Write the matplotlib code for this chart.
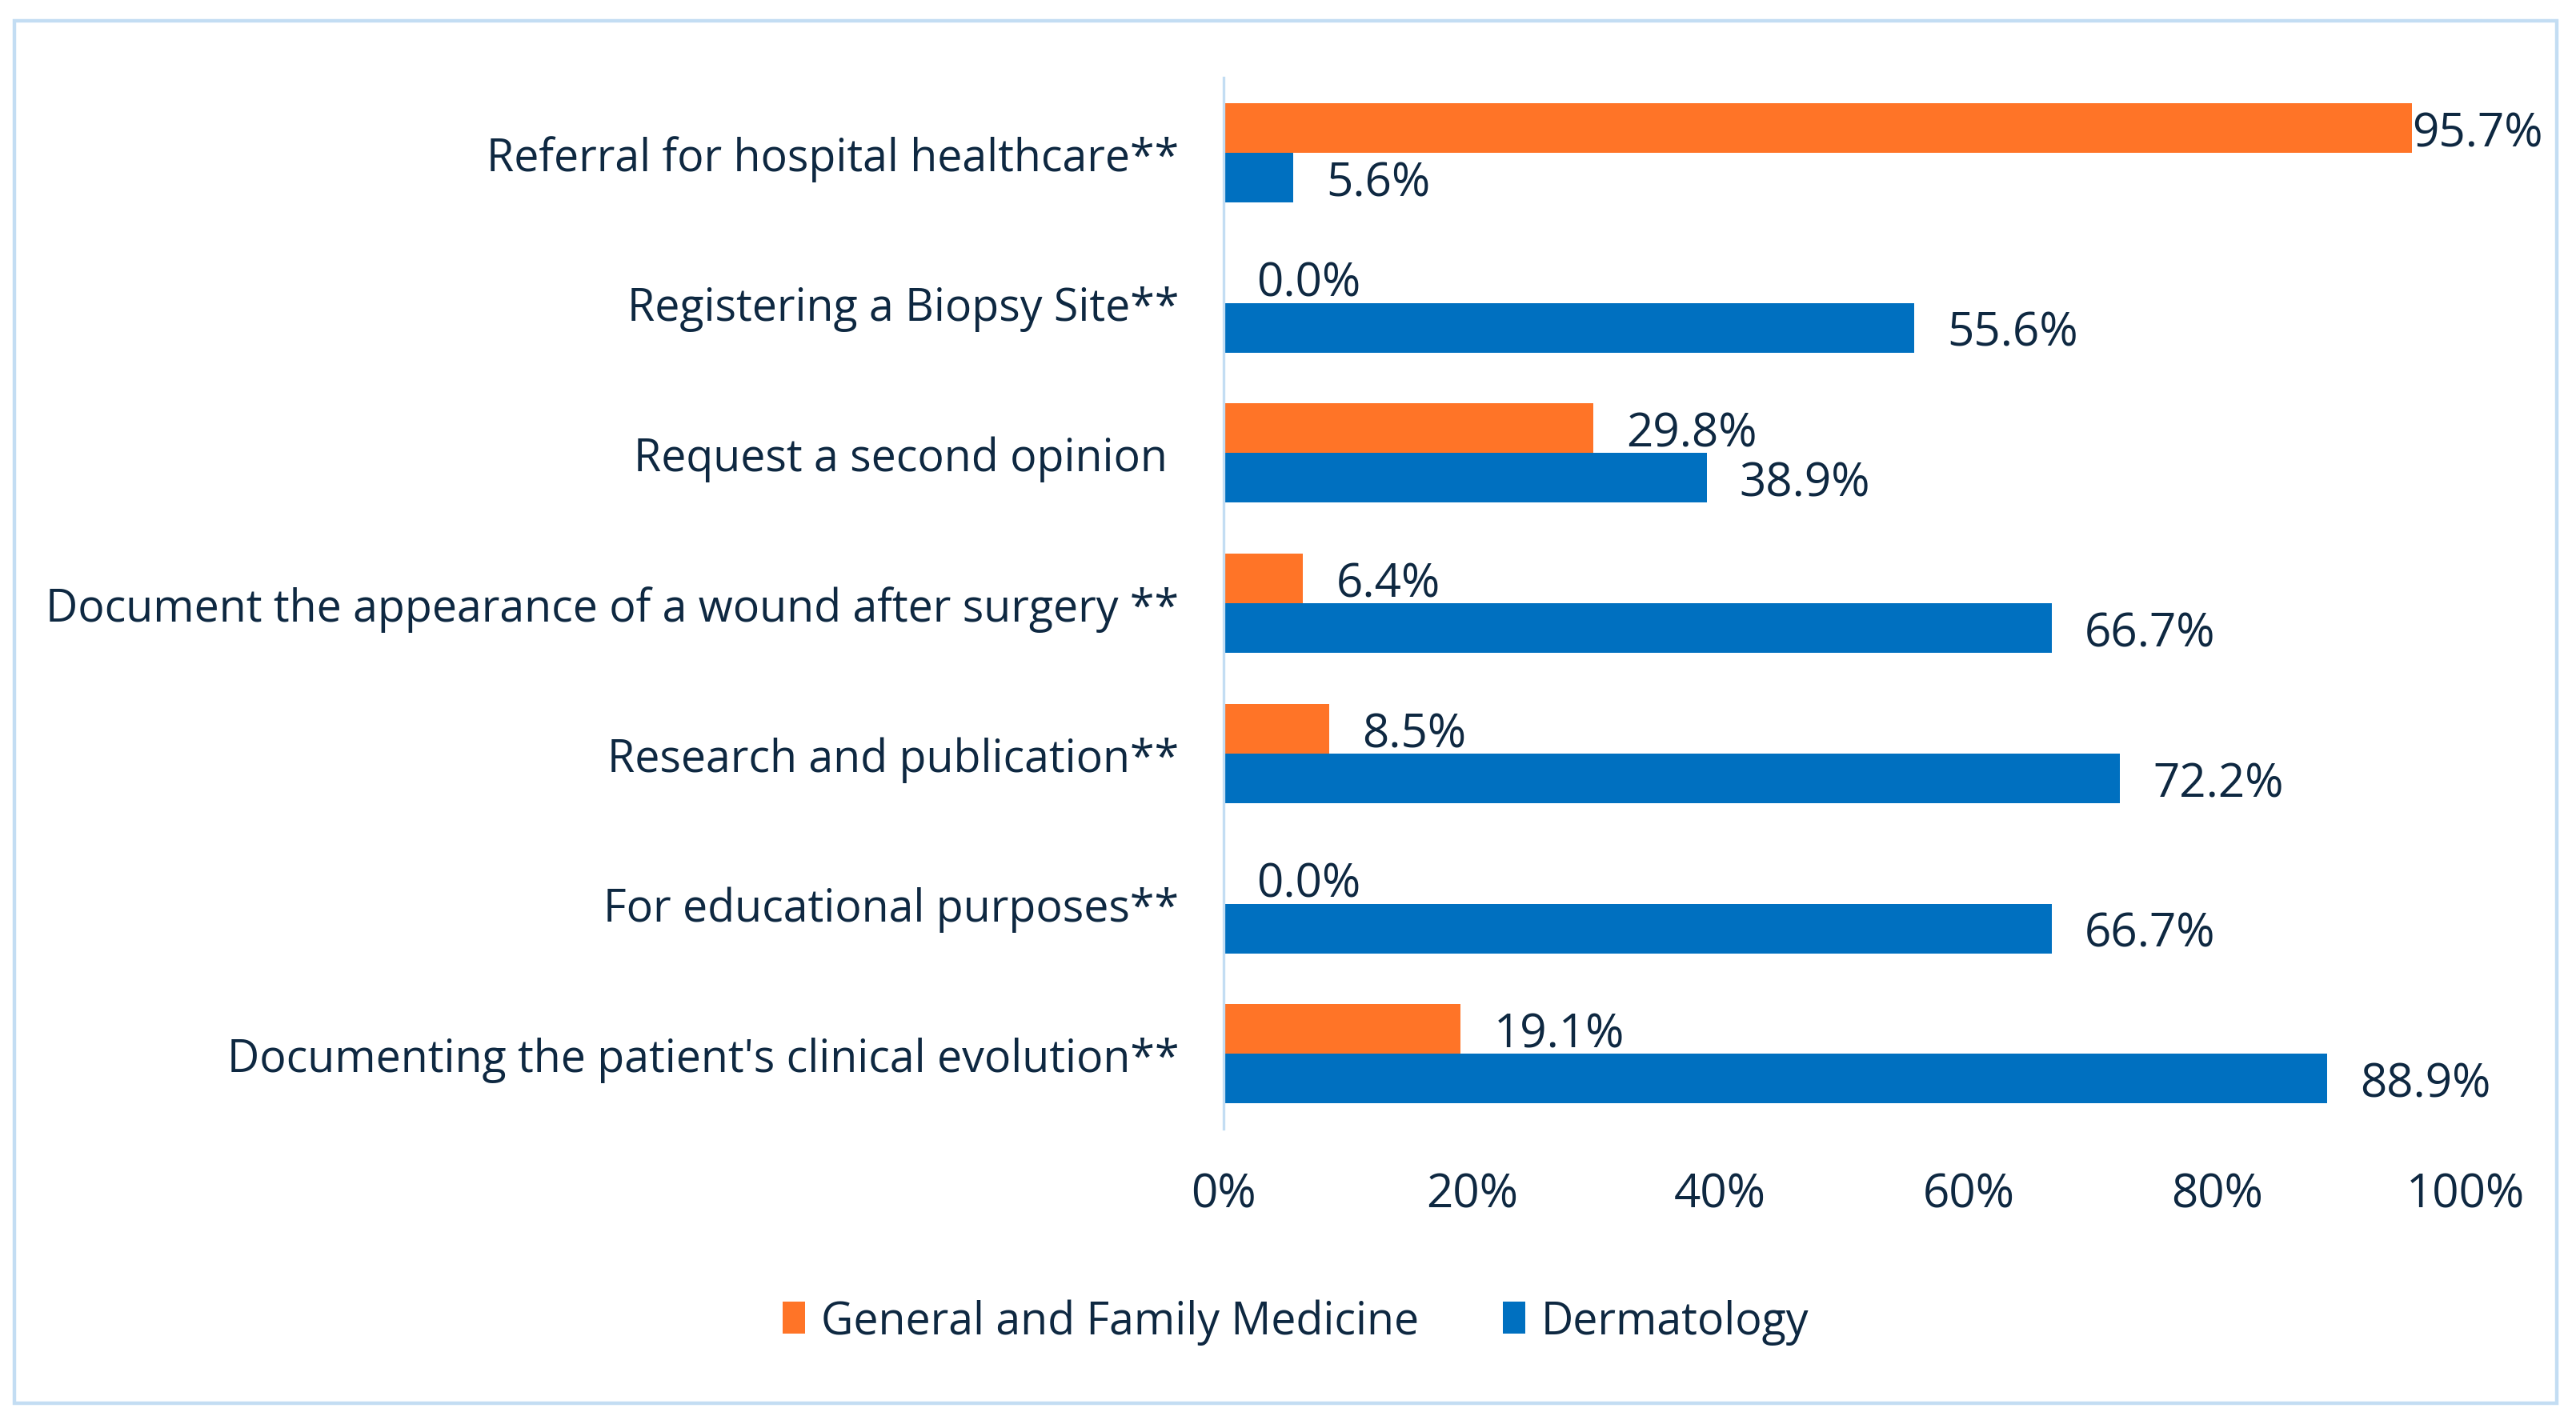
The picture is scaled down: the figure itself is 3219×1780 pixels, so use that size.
import matplotlib
matplotlib.use("Agg")
import matplotlib.pyplot as plt
from matplotlib.patches import Rectangle
import numpy as np

categories = [
    "Referral for hospital healthcare**",
    "Registering a Biopsy Site**",
    "Request a second opinion ",
    "Document the appearance of a wound after surgery **",
    "Research and publication**",
    "For educational purposes**",
    "Documenting the patient's clinical evolution**",
]
general_family = [95.7, 0.0, 29.8, 6.4, 8.5, 0.0, 19.1]
dermatology = [5.6, 55.6, 38.9, 66.7, 72.2, 66.7, 88.9]
series_names = ["General and Family Medicine", "Dermatology"]
x_ticks = [0, 20, 40, 60, 80, 100]

ORANGE = "#FF7427"
BLUE = "#0070C0"
TEXT = "#0E2841"
EDGE = "#C3DDF3"

plt.rcParams['font.family'] = ['Open Sans', 'DejaVu Sans']

fig = plt.figure(figsize=(16.095, 8.905), dpi=200)
ax = fig.add_axes([0.475, 0.207, 0.482, 0.738])

n = len(categories)
pos = np.arange(n)
h = 0.33
b1 = ax.barh(pos - h / 2, general_family, height=h, color=ORANGE, label=series_names[0])
b2 = ax.barh(pos + h / 2, dermatology, height=h, color=BLUE, label=series_names[1])

fs = 20
fsn = 21
for bar, v in zip(b1, general_family):
    off = 0 if v > 90 else 14.8
    ax.annotate(f"{v:.1f}%", (bar.get_width(), bar.get_y() + bar.get_height() / 2),
                xytext=(off, -2.5), textcoords="offset points", ha="left", va="center",
                fontsize=fsn, color=TEXT, annotation_clip=False)
for bar, v in zip(b2, dermatology):
    ax.annotate(f"{v:.1f}%", (bar.get_width(), bar.get_y() + bar.get_height() / 2),
                xytext=(14.8, -2.5), textcoords="offset points", ha="left", va="center",
                fontsize=fsn, color=TEXT, annotation_clip=False)

ax.set_xlim(0, 100)
ax.set_ylim(n - 0.5, -0.5)
ax.set_yticks(pos)
ax.set_yticklabels(categories, fontsize=fs, color=TEXT)
ax.set_xticks(x_ticks)
ax.set_xticklabels([f"{t}%" for t in x_ticks], fontsize=fsn, color=TEXT)
ax.tick_params(axis='y', length=0, pad=20)
ax.tick_params(axis='x', length=0, pad=19)
for s in ["top", "right", "bottom"]:
    ax.spines[s].set_visible(False)
ax.spines["left"].set_color(EDGE)
ax.spines["left"].set_linewidth(1.2)

leg = fig.legend(handles=[b1, b2], labels=series_names, loc="center",
                 bbox_to_anchor=(0.503, 0.072), ncol=2, frameon=False,
                 fontsize=fs, handlelength=0.5, handleheight=0.75,
                 handletextpad=0.35, columnspacing=1.9)
for t in leg.get_texts():
    t.set_color(TEXT)

fig.patches.append(Rectangle((0.0057, 0.0146), 0.9868, 0.9704, transform=fig.transFigure,
                             fill=False, edgecolor=EDGE, linewidth=1.6))

fig.savefig("out.png", dpi=200, facecolor="white")
